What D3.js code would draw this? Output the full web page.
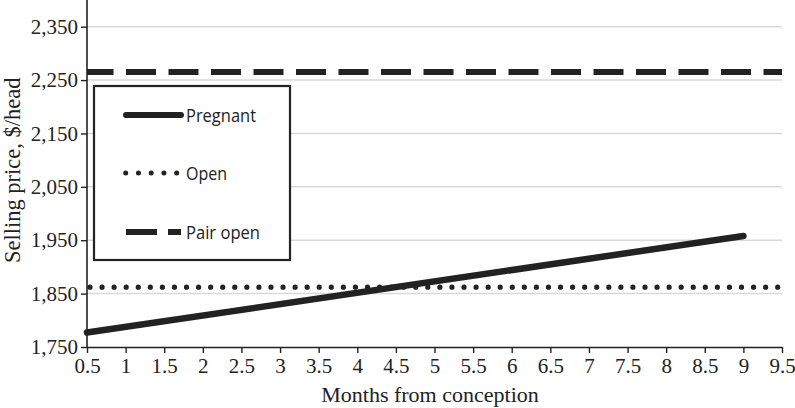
<!DOCTYPE html>
<html>
<head>
<meta charset="utf-8">
<script src="https://cdn.jsdelivr.net/npm/d3@7"></script>
<style>
  body { margin: 0; background: #fff; }
</style>
</head>
<body>
<div id="chart"></div>
<script>
// Data
const months = [0.5, 9];
const pregnant = [1777, 1958];
const openMonths = [0.5, 9.5];
const openPrice = [1862, 1862];
const pairOpenPrice = [2265, 2265];
const seriesNames = ["Pregnant", "Open", "Pair open"];
const xTicks = [0.5, 1, 1.5, 2, 2.5, 3, 3.5, 4, 4.5, 5, 5.5, 6, 6.5, 7, 7.5, 8, 8.5, 9, 9.5];
const yTicks = [1750, 1850, 1950, 2050, 2150, 2250, 2350];

const width = 795;
const height = 408;
const margin = { top: 0, right: 13, bottom: 61, left: 87 };

const svg = d3.select("#chart")
  .append("svg")
  .attr("width", width)
  .attr("height", height);

const x = d3.scaleLinear()
  .domain([0.5, 9.5])
  .range([margin.left, width - margin.right]);

const y = d3.scaleLinear()
  .domain([1750, 2400])
  .range([height - margin.bottom, margin.top]);

// gridlines
svg.append("g")
  .selectAll("line")
  .data(yTicks.slice(1))
  .enter()
  .append("line")
  .attr("x1", x(0.5))
  .attr("x2", x(9.5))
  .attr("y1", d => y(d))
  .attr("y2", d => y(d))
  .attr("stroke", "#d9d9d9")
  .attr("stroke-width", 1.5);

const serif = "'Liberation Serif', 'Times New Roman', serif";

// x axis
const xAxis = svg.append("g")
  .attr("transform", `translate(0, ${y(1750)})`)
  .call(d3.axisBottom(x).tickValues(xTicks).tickSize(6).tickSizeOuter(0).tickFormat(d => d));
xAxis.select(".domain").attr("stroke", "#222").attr("stroke-width", 1.6);
xAxis.selectAll(".tick line").attr("stroke", "#222").attr("stroke-width", 1.4);
xAxis.selectAll("text")
  .attr("font-family", serif)
  .attr("font-size", "21px")
  .attr("fill", "#222")
  .attr("y", 9)
  .attr("dy", "0.8em");

// y axis
const yAxis = svg.append("g")
  .attr("transform", `translate(${x(0.5)}, 0)`)
  .call(d3.axisLeft(y).tickValues(yTicks).tickSize(6).tickSizeOuter(0).tickFormat(d3.format(",")));
yAxis.select(".domain").attr("stroke", "#222").attr("stroke-width", 1.6)
  .attr("d", `M0,${y(1750)}V${y(2400)}`);
yAxis.selectAll(".tick line").attr("stroke", "#222").attr("stroke-width", 1.4);
yAxis.selectAll("text")
  .attr("font-family", serif)
  .attr("font-size", "21px")
  .attr("fill", "#222")
  .attr("x", -9);

// axis titles
svg.append("text")
  .attr("x", 430)
  .attr("y", 402)
  .attr("text-anchor", "middle")
  .attr("font-family", serif)
  .attr("font-size", "22px")
  .attr("fill", "#222")
  .text("Months from conception");

svg.append("text")
  .attr("transform", `translate(20, ${y(2081)}) rotate(-90)`)
  .attr("text-anchor", "middle")
  .attr("font-family", serif)
  .attr("font-size", "22.5px")
  .attr("fill", "#222")
  .text("Selling price, $/head");

const line = d3.line().x(d => x(d[0])).y(d => y(d[1]));

// open (dotted)
svg.append("path")
  .datum(d3.zip(openMonths, openPrice))
  .attr("d", line)
  .attr("fill", "none")
  .attr("stroke", "#222")
  .attr("stroke-width", 5.2)
  .attr("stroke-linecap", "round")
  .attr("stroke-dasharray", "0,12.065")
  .attr("stroke-dashoffset", 9.065);

// pair open (dashed)
svg.append("path")
  .datum(d3.zip(openMonths, pairOpenPrice))
  .attr("d", line)
  .attr("fill", "none")
  .attr("stroke", "#222")
  .attr("stroke-width", 6)
  .attr("stroke-dasharray", "30,12.5")
  .attr("stroke-dashoffset", 3.5);

// pregnant (solid)
svg.append("path")
  .datum(d3.zip(months, pregnant))
  .attr("d", line)
  .attr("fill", "none")
  .attr("stroke", "#222")
  .attr("stroke-width", 6.5)
  .attr("stroke-linecap", "round");

// legend
const legend = svg.append("g");
legend.append("rect")
  .attr("x", 94)
  .attr("y", 86)
  .attr("width", 196)
  .attr("height", 174)
  .attr("fill", "#fff")
  .attr("stroke", "#222")
  .attr("stroke-width", 2.2);

const rowY = [115, 173, 232];
const labelWidths = [70, 41, 74];
const sampleStyles = [
  { x1: 126, x2: 181, dash: null, cap: "round", w: 6 },
  { x1: 125.7, x2: 177, dash: "0,12.75", cap: "round", w: 5 },
  { x1: 126, x2: 181, dash: "31,11", cap: "butt", w: 6 }
];

seriesNames.forEach((name, i) => {
  const s = sampleStyles[i];
  const ln = legend.append("line")
    .attr("x1", s.x1)
    .attr("x2", s.x2)
    .attr("y1", rowY[i])
    .attr("y2", rowY[i])
    .attr("stroke", "#222")
    .attr("stroke-width", s.w)
    .attr("stroke-linecap", s.cap);
  if (s.dash) ln.attr("stroke-dasharray", s.dash);

  legend.append("text")
    .attr("x", 186)
    .attr("y", rowY[i])
    .attr("dy", "0.35em")
    .attr("font-family", "'Open Sans', 'Noto Sans', sans-serif")
    .attr("font-size", "18.6px")
    .attr("textLength", labelWidths[i])
    .attr("lengthAdjust", "spacingAndGlyphs")
    .attr("fill", "#222")
    .text(name);
});
</script>
</body>
</html>
